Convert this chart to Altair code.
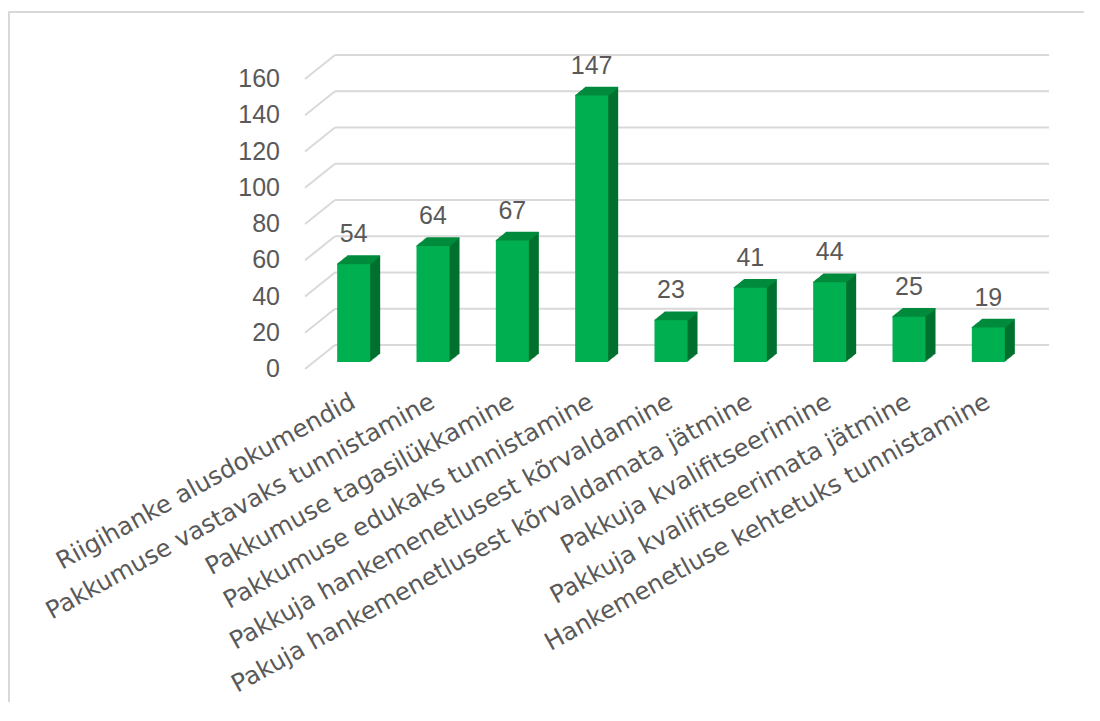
import altair as alt
import pandas as pd

categories = [
    "Riigihanke alusdokumendid",
    "Pakkumuse vastavaks tunnistamine",
    "Pakkumuse tagasilükkamine",
    "Pakkumuse edukaks tunnistamine",
    "Pakkuja hankemenetlusest kõrvaldamine",
    "Pakuja hankemenetlusest kõrvaldamata jätmine",
    "Pakkuja kvalifitseerimine",
    "Pakkuja kvalifitseerimata jätmine",
    "Hankemenetluse kehtetuks tunnistamine",
]
values = [54, 64, 67, 147, 23, 41, 44, 25, 19]
grid_values = [0, 20, 40, 60, 80, 100, 120, 140, 160]

df = pd.DataFrame({"category": categories, "value": values})
gdf = pd.DataFrame({"tick": grid_values})

FRONT = "#00B050"
SIDE = "#00702F"
TOP = "#008A3C"
GRID = "#D9D9D9"
TXT = "#595959"
FONT = "Liberation Sans"
CAT_FONT = "DejaVu Sans"

xsc = alt.Scale(domain=categories, paddingInner=0, paddingOuter=0)
ysc = alt.Scale(domain=[0, 160], nice=False)

x_plain = alt.X("category:N", sort=categories, scale=xsc)
y_plain = alt.Y("value:Q", scale=ysc, axis=None)

x_axis = alt.X(
    "category:N",
    sort=categories,
    scale=xsc,
    axis=alt.Axis(
        title=None,
        domain=False,
        ticks=False,
        labelAngle=-29,
        labelAlign="right",
        labelBaseline="middle",
        labelPadding=38,
        labelFontSize=24.5,
        labelFont=CAT_FONT,
        labelColor=TXT,
        labelLimit=1000,
        labelOverlap=False,
    ),
)

base = alt.Chart(df)

# invisible first layer carrying the category axis
axis_layer = base.mark_bar(size=33, opacity=0).encode(x=x_axis, y=y_plain)

# back wall grid lines
back_grid = alt.Chart(gdf).mark_rule(color=GRID, strokeWidth=2, yOffset=-17).encode(
    y=alt.Y("tick:Q", scale=ysc, axis=None),
    x=alt.value(21),
    x2=alt.value(735),
)
side_grid = alt.Chart(gdf).mark_rule(color=GRID, strokeWidth=2, yOffset=7, y2Offset=-17).encode(
    y=alt.Y("tick:Q", scale=ysc, axis=None),
    y2=alt.Y2("tick:Q"),
    x=alt.value(-9),
    x2=alt.value(21),
)
# value axis labels
y_labels = alt.Chart(gdf).mark_text(
    align="right", baseline="middle", dy=7, fontSize=25, font=FONT, color=TXT
).encode(
    y=alt.Y("tick:Q", scale=ysc, axis=None),
    x=alt.value(-34),
    text=alt.Text("tick:Q"),
)

layers = [axis_layer, back_grid, side_grid, y_labels]

# extruded side of the bars
for k in range(1, 11):
    layers.append(
        base.mark_bar(size=33, color=SIDE, xOffset=k, yOffset=-0.8 * k, y2Offset=-0.8 * k).encode(
            x=x_plain, y=y_plain
        )
    )
# top faces
for k in range(0, 11):
    layers.append(
        base.mark_tick(size=33, thickness=1.6, color=TOP, xOffset=k, yOffset=-0.8 * k, opacity=1).encode(
            x=x_plain, y=y_plain
        )
    )

front = base.mark_bar(size=33, color=FRONT).encode(x=x_plain, y=y_plain)
layers.append(front)

labels = base.mark_text(
    dy=-30, fontSize=25, font=FONT, color=TXT, baseline="middle", align="center"
).encode(x=x_plain, y=y_plain, text=alt.Text("value:Q"))
layers.append(labels)

frame_left = base.mark_rule(color=GRID, strokeWidth=2).encode(
    x=alt.value(-305), y=alt.value(-61), y2=alt.value(640)
)
frame_top = base.mark_rule(color=GRID, strokeWidth=2).encode(
    x=alt.value(-306), x2=alt.value(770), y=alt.value(-60)
)
layers += [frame_left, frame_top]

chart = (
    alt.layer(*layers)
    .properties(
        width=714,
        height=290,
        autosize=alt.AutoSizeParams(type="none"),
        padding={"left": 306, "top": 64, "right": 60, "bottom": 340},
    )
    .configure_view(stroke=None)
)

chart.save("out.html", embed_options={"renderer": "svg", "actions": False})
